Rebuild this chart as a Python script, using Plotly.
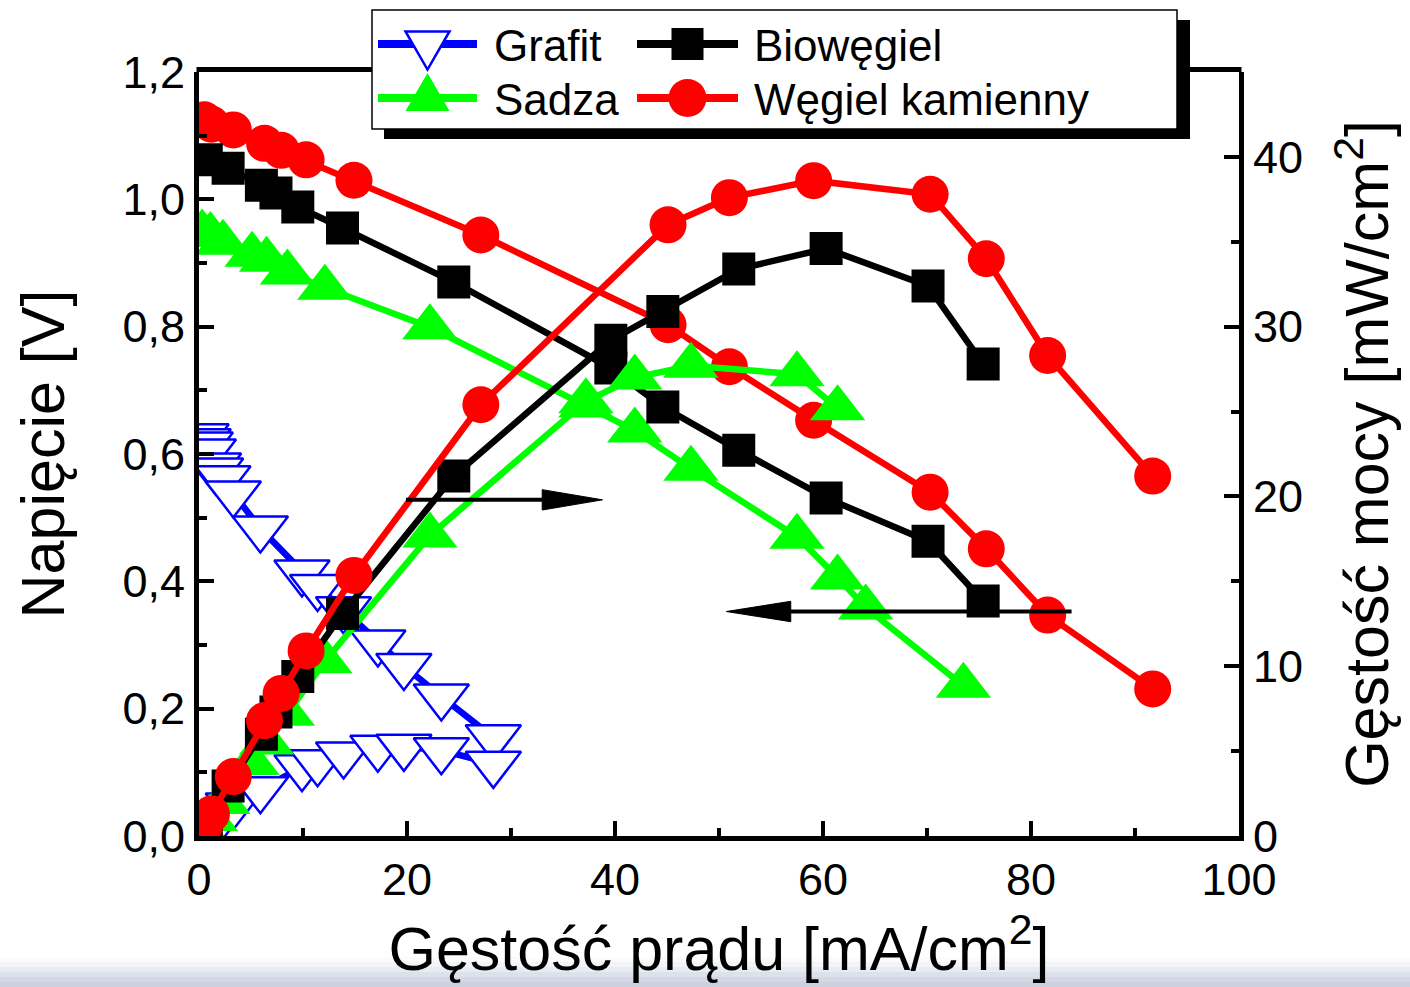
import plotly.graph_objects as go

# ---------------- data ----------------
# Grafit
I_grafit = [0.2, 0.4, 0.6, 0.9, 1.4, 1.6, 2.3, 3.3, 5.9, 9.9, 11.4, 13.9, 17.2, 19.7, 23.3, 28.3]
V_grafit = [0.628, 0.620, 0.615, 0.604, 0.582, 0.574, 0.562, 0.538, 0.483, 0.414, 0.391, 0.356, 0.304, 0.267, 0.219, 0.155]
P_grafit = [0.1, 0.2, 0.3, 0.5, 0.75, 0.85, 1.25, 1.8, 2.75, 4.05, 4.35, 4.8, 5.2, 5.25, 5.05, 4.25]

# Sadza
I_sadza = [0.3, 1.1, 2.3, 5.1, 6.5, 8.5, 12.1, 22.2, 37.2, 41.9, 47.3, 57.5, 61.4, 64.1, 73.5]
V_sadza = [0.948, 0.944, 0.932, 0.913, 0.905, 0.885, 0.861, 0.799, 0.676, 0.637, 0.577, 0.470, 0.406, 0.359, 0.236]
I_sadza_p = [0.3, 1.1, 2.3, 5.1, 6.5, 8.5, 12.1, 22.2, 37.2, 41.9, 47.3, 57.5, 61.4]
P_sadza = [0.3, 1.0, 2.0, 4.3, 5.5, 7.2, 10.3, 17.7, 25.6, 27.0, 27.7, 27.2, 25.2]

# Biowęgiel
I_bio = [0.7, 2.8, 6.0, 7.4, 9.5, 13.8, 24.5, 39.6, 44.6, 51.9, 60.3, 70.1, 75.4]
V_bio = [1.062, 1.049, 1.022, 1.010, 0.988, 0.955, 0.870, 0.735, 0.674, 0.606, 0.531, 0.463, 0.369]
P_bio = [0.8, 2.95, 6.0, 7.3, 9.4, 13.1, 21.2, 29.2, 30.9, 33.4, 34.6, 32.4, 27.8]

# Węgiel kamienny
I_wk = [0.5, 1.2, 3.3, 6.3, 7.9, 10.3, 14.9, 27.1, 45.1, 51.0, 59.1, 70.3, 75.7, 81.6, 91.7]
V_wk = [1.125, 1.118, 1.109, 1.088, 1.077, 1.062, 1.030, 0.944, 0.803, 0.737, 0.653, 0.540, 0.451, 0.347, 0.231]
P_wk = [0.56, 1.3, 3.5, 6.8, 8.4, 10.9, 15.35, 25.4, 36.0, 37.6, 38.6, 37.8, 34.0, 28.3, 21.2]

legend_names = ["Grafit", "Sadza", "Biowęgiel", "Węgiel kamienny"]

x_ticks = [0, 20, 40, 60, 80, 100]
y_ticks = [0.0, 0.2, 0.4, 0.6, 0.8, 1.0, 1.2]
y2_ticks = [0, 10, 20, 30, 40]

# ---------------- styling ----------------
BLUE, GREEN, BLACK, RED = "#0000FF", "#00FF00", "#000000", "#FF0000"
FONT = "Liberation Sans, Arial, Helvetica, sans-serif"
LW = 6.5
TRI = 48

W, H = 1410, 987
L, R, T, B = 199, 171, 72, 151
PW, PH = W - L - R, H - T - B


def px(xp):
    return (xp - L) / PW


def py(yp):
    return (H - B - yp) / PH


fig = go.Figure()


def add_series(x, y, color, symbol, size, yaxis, open_marker=False):
    fig.add_trace(go.Scatter(
        x=x, y=y, mode="lines+markers", yaxis=yaxis, showlegend=False,
        line=dict(color=color, width=LW),
        marker=dict(symbol=symbol, size=size,
                    color="white" if open_marker else color,
                    line=dict(color=color, width=2.5 if open_marker else 0)),
        cliponaxis=True, hoverinfo="skip"))


# voltage curves
add_series(I_grafit, V_grafit, BLUE, "triangle-down", TRI, "y", open_marker=True)
add_series(I_sadza, V_sadza, GREEN, "triangle-up", TRI, "y")
add_series(I_wk, V_wk, RED, "circle", 37, "y")
add_series(I_bio, V_bio, BLACK, "square", 33, "y")
# power curves
add_series(I_grafit, P_grafit, BLUE, "triangle-down", TRI, "y2", open_marker=True)
add_series(I_sadza_p, P_sadza, GREEN, "triangle-up", TRI, "y2")
add_series(I_bio, P_bio, BLACK, "square", 33, "y2")
add_series(I_wk, P_wk, RED, "circle", 37, "y2")

# ---------------- custom legend (Origin style, drawn as shapes) ----------------
shapes = []
# top frame line
shapes.append(dict(type="line", xref="paper", yref="paper", x0=px(196.5), x1=px(1241.5),
                   y0=py(69.5), y1=py(69.5), line=dict(color="black", width=5), layer="below"))
# legend shadow & box
shapes.append(dict(type="rect", xref="paper", yref="paper", x0=px(384), x1=px(1190),
                   y0=py(139), y1=py(20), fillcolor="black", line=dict(width=0), layer="below"))
shapes.append(dict(type="rect", xref="paper", yref="paper", x0=px(372), x1=px(1177),
                   y0=py(129), y1=py(10), fillcolor="white", line=dict(color="black", width=1.5),
                   layer="below"))

leg_cols = [(378, 477, 492), (637, 738, 752)]
leg_rows = [44, 98]
leg_items = [
    (0, 0, legend_names[0], BLUE, "tri-down"),
    (0, 1, legend_names[1], GREEN, "tri-up"),
    (1, 0, legend_names[2], BLACK, "square"),
    (1, 1, legend_names[3], RED, "circle"),
]


def pth(points):
    return "M " + " L ".join(f"{px(a):.5f},{py(b):.5f}" for a, b in points) + " Z"


annotations = []
for col, row, name, color, sym in leg_items:
    x0, x1, xt = leg_cols[col]
    yy = leg_rows[row]
    xc = (x0 + x1) / 2
    shapes.append(dict(type="line", xref="paper", yref="paper", x0=px(x0), x1=px(x1),
                       y0=py(yy), y1=py(yy), line=dict(color=color, width=8), layer="below"))
    if sym == "tri-down":
        shapes.append(dict(type="path", xref="paper", yref="paper", layer="below",
                           path=pth([(xc - 22, yy - 12.5), (xc + 22, yy - 12.5), (xc, yy + 25.5)]),
                           fillcolor="white", line=dict(color=color, width=2.5)))
    elif sym == "tri-up":
        shapes.append(dict(type="path", xref="paper", yref="paper", layer="below",
                           path=pth([(xc - 22, yy + 13), (xc + 22, yy + 13), (xc, yy - 25)]),
                           fillcolor=color, line=dict(color=color, width=0)))
    elif sym == "square":
        shapes.append(dict(type="rect", xref="paper", yref="paper", layer="below",
                           x0=px(xc - 16), x1=px(xc + 16), y0=py(yy + 16), y1=py(yy - 16),
                           fillcolor=color, line=dict(width=0)))
    else:
        shapes.append(dict(type="circle", xref="paper", yref="paper", layer="below",
                           x0=px(xc - 19), x1=px(xc + 19), y0=py(yy + 19), y1=py(yy - 19),
                           fillcolor=color, line=dict(width=0)))
    annotations.append(dict(xref="paper", yref="paper", x=px(xt), y=py(yy + 2), text=name,
                            showarrow=False, xanchor="left", yanchor="middle",
                            font=dict(family=FONT, size=44, color="black")))


# arrows (line + filled head) in data coordinates
def arrow(x_tail, x_tip, x_base, yv, half_h):
    shapes.append(dict(type="line", xref="x", yref="y", x0=x_tail, x1=x_base, y0=yv, y1=yv,
                       line=dict(color="black", width=4), layer="above"))
    shapes.append(dict(type="path", xref="x", yref="y",
                       path=f"M {x_base},{yv + half_h} L {x_tip},{yv} L {x_base},{yv - half_h} Z",
                       fillcolor="black", line=dict(color="black", width=1), layer="above"))


arrow(19.9, 38.8, 33.0, 0.528, 0.016)
arrow(83.9, 50.7, 56.9, 0.3526, 0.016)

# bottom gradient band (screenshot edge)
band_cols = ["#fbfbfd", "#f2f4f8", "#e8ebf2", "#dde1ea", "#d3d8e4", "#cbd1df"]
y_start = 957
step = (H - y_start) / len(band_cols)
for i, c in enumerate(band_cols):
    shapes.append(dict(type="rect", xref="paper", yref="paper", x0=-L / PW, x1=(W - L) / PW,
                       y0=py(y_start + (i + 1) * step), y1=py(y_start + i * step),
                       fillcolor=c, line=dict(width=0), layer="below"))

axis_common = dict(
    showline=True, linecolor="black", linewidth=5, ticks="inside", ticklen=15, tickwidth=4,
    tickcolor="black", showgrid=False, zeroline=False,
    tickfont=dict(family=FONT, size=45, color="black"),
)

fig.update_layout(
    width=W, height=H, margin=dict(l=L, r=R, t=T, b=B, autoexpand=False),
    paper_bgcolor="white", plot_bgcolor="white", separators=",.",
    showlegend=False,
    xaxis=dict(range=[0, 100], tickvals=x_ticks, **axis_common,
               minor=dict(dtick=10, tick0=0, ticks="inside", ticklen=8, tickwidth=4, tickcolor="black"),
               title=dict(text="Gęstość prądu [mA/cm<sup>2</sup>]",
                          font=dict(family=FONT, size=61, color="black"), standoff=22)),
    yaxis=dict(range=[0, 1.2], tickvals=y_ticks, tickformat=".1f", **axis_common,
               minor=dict(dtick=0.1, tick0=0, ticks="inside", ticklen=8, tickwidth=4, tickcolor="black"),
               title=dict(text="Napięcie [V]", font=dict(family=FONT, size=61, color="black"),
                          standoff=40)),
    yaxis2=dict(range=[0, 45], tickvals=y2_ticks, overlaying="y", side="right", anchor="x",
                **axis_common,
                minor=dict(dtick=5, tick0=0, ticks="inside", ticklen=8, tickwidth=4, tickcolor="black"),
                title=dict(text="Gęstość mocy [mW/cm<sup>2</sup>]",
                           font=dict(family=FONT, size=61, color="black"), standoff=45)),
    shapes=shapes, annotations=annotations,
)

fig.write_html("out.html")
